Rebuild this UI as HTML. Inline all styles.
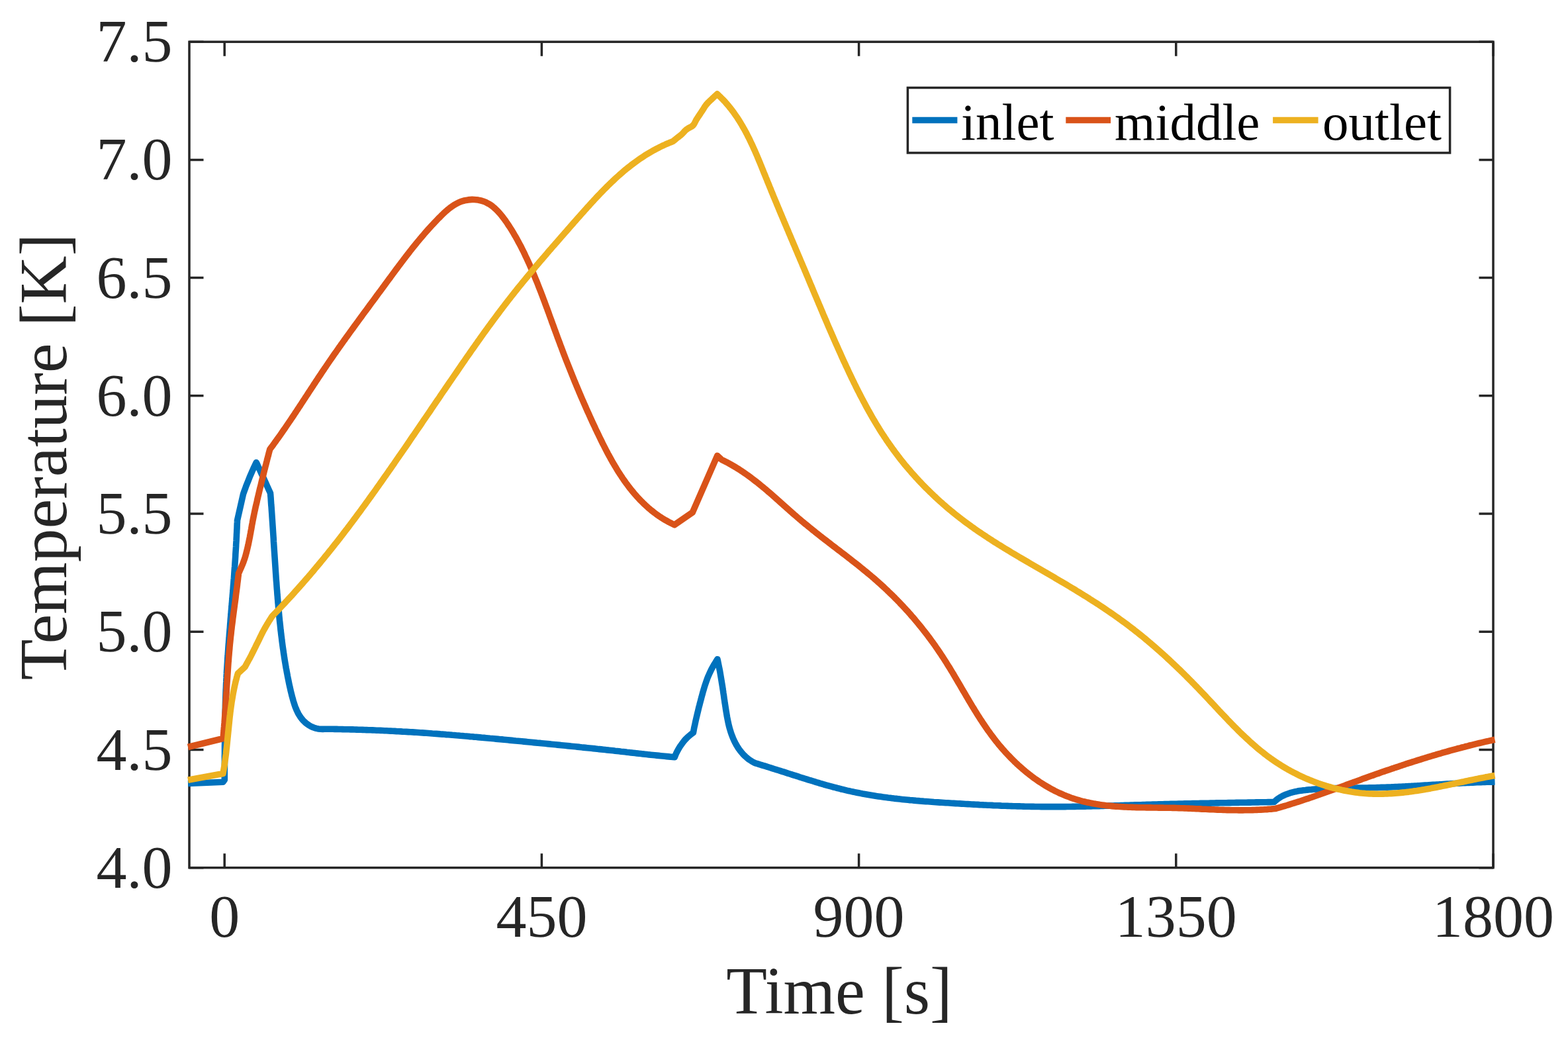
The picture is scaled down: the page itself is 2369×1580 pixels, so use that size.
<!DOCTYPE html>
<html lang="en"><head><meta charset="utf-8"><title>Temperature vs Time</title>
<style>html,body{margin:0;padding:0;background:#fff;overflow:hidden}svg{display:block}text{font-family:"Liberation Serif","DejaVu Serif",serif;fill:#262626}.tk{font-size:92px}.lb{font-size:101px}.lg{font-size:79px;fill:#000}.ax{stroke:#262626;stroke-width:3.5;fill:none}.cv{fill:none;stroke-width:9.6;stroke-linejoin:round;stroke-linecap:butt}</style></head><body>
<svg xmlns="http://www.w3.org/2000/svg" width="2369" height="1580" viewBox="0 0 2369 1580">
<rect width="2369" height="1580" fill="#fff"/>
<rect class="ax" x="286.0" y="63.2" width="1970.0" height="1247.5"/>
<path class="ax" style="stroke-width:3.5" d="M339.2 1310.7 v-21.5 M339.2 63.2 v21.5M818.4 1310.7 v-21.5 M818.4 63.2 v21.5M1297.6 1310.7 v-21.5 M1297.6 63.2 v21.5M1776.8 1310.7 v-21.5 M1776.8 63.2 v21.5M2256.0 1310.7 v-21.5 M2256.0 63.2 v21.5M286.0 1310.7 h21.5 M2256.0 1310.7 h-21.5M286.0 1132.5 h21.5 M2256.0 1132.5 h-21.5M286.0 954.3 h21.5 M2256.0 954.3 h-21.5M286.0 776.1 h21.5 M2256.0 776.1 h-21.5M286.0 597.8 h21.5 M2256.0 597.8 h-21.5M286.0 419.6 h21.5 M2256.0 419.6 h-21.5M286.0 241.4 h21.5 M2256.0 241.4 h-21.5M286.0 63.2 h21.5 M2256.0 63.2 h-21.5"/>
<path class="cv" stroke="#0072BD" d="M284.0 1183.5L337.0 1181.2L339.3 1178.0L339.3 1175.0L339.3 1172.0L339.3 1168.9L339.3 1165.9L339.4 1162.9L339.4 1159.9L339.4 1156.9L339.4 1153.8L339.4 1150.8L339.4 1147.8L339.4 1144.8L339.4 1141.8L339.5 1138.7L339.5 1135.7L339.5 1132.7L339.5 1129.7L339.5 1126.7L339.6 1123.6L339.6 1120.6L339.6 1117.6L339.6 1114.6L339.7 1111.6L339.7 1108.5L339.7 1105.5L339.8 1102.5L339.8 1099.5L339.8 1096.5L339.9 1093.4L339.9 1090.4L340.0 1087.4L340.0 1084.4L340.1 1081.4L340.2 1078.3L340.2 1075.3L340.3 1072.3L340.4 1069.3L340.4 1066.3L340.5 1063.2L340.6 1060.2L340.7 1057.2L340.8 1054.2L340.9 1051.2L341.0 1048.1L341.1 1045.1L341.2 1042.1L341.4 1039.1L341.5 1036.1L341.6 1033.0L341.8 1030.0L341.9 1027.0L342.1 1024.0L342.2 1021.0L342.4 1018.0L342.5 1015.0L342.7 1011.9L342.9 1008.9L343.1 1005.9L343.3 1002.9L343.5 999.9L343.6 996.9L343.8 993.9L344.1 990.8L344.3 987.8L344.5 984.8L344.7 981.8L344.9 978.8L345.1 975.8L345.4 972.8L345.6 969.8L345.8 966.7L346.1 963.7L346.3 960.7L346.5 957.7L346.8 954.7L347.0 951.7L347.3 948.7L347.5 945.7L347.7 942.7L348.0 939.7L348.2 936.6L348.5 933.6L348.7 930.6L349.0 927.6L349.2 924.6L349.5 921.6L349.7 918.6L350.0 915.6L350.2 912.6L350.5 909.6L350.7 906.5L351.0 903.5L351.2 900.5L351.5 897.5L351.7 894.5L352.0 891.5L352.2 888.5L352.4 885.5L352.7 882.5L352.9 879.5L353.1 876.4L353.4 873.4L353.6 870.4L353.8 867.4L354.0 864.4L354.2 861.4L354.4 858.4L354.7 855.4L354.9 852.3L355.1 849.3L355.3 846.3L355.5 843.3L355.7 840.3L355.8 837.3L356.0 834.3L356.2 831.3L356.4 828.2L356.6 825.2L356.7 822.2L356.9 819.2L357.1 816.2L357.2 813.2L357.4 810.1L357.5 807.1L357.7 804.1L357.8 801.1L358.0 798.1L358.1 795.1L358.2 792.0L358.4 789.0L358.5 786.0L367.5 746.3L368.5 743.4L369.5 740.6L370.6 737.7L371.6 734.8L372.7 732.0L373.8 729.2L375.0 726.3L376.1 723.5L377.2 720.7L378.4 717.9L379.6 715.1L380.8 712.3L382.1 709.5L383.3 706.8L384.6 704.0L385.9 701.2L387.2 698.5L388.5 701.2L389.7 704.0L391.0 706.7L392.3 709.4L393.5 712.1L394.8 714.9L396.0 717.6L397.3 720.3L398.6 723.1L399.8 725.8L401.1 728.6L402.3 731.3L403.5 734.0L404.8 736.8L406.0 739.5L407.3 742.3L408.5 745.0L408.7 748.0L409.0 751.0L409.2 754.0L409.4 757.1L409.6 760.1L409.8 763.1L410.1 766.1L410.3 769.1L410.5 772.1L410.7 775.1L410.9 778.1L411.1 781.1L411.3 784.1L411.5 787.1L411.7 790.1L411.9 793.1L412.1 796.1L412.3 799.1L412.5 802.2L412.7 805.2L412.9 808.2L413.1 811.2L413.3 814.2L413.4 817.2L413.6 820.2L413.8 823.2L414.0 826.2L414.2 829.2L414.4 832.2L414.6 835.2L414.8 838.1L415.0 841.1L415.2 844.1L415.4 847.1L415.6 850.1L415.8 853.1L416.0 856.1L416.2 859.1L416.4 862.2L416.6 865.2L416.8 868.2L417.0 871.2L417.2 874.2L417.4 877.2L417.7 880.2L417.9 883.2L418.1 886.2L418.3 889.2L418.6 892.2L418.8 895.2L419.0 898.2L419.3 901.2L419.5 904.2L419.8 907.2L420.0 910.3L420.3 913.3L420.5 916.3L420.8 919.3L421.1 922.3L421.4 925.3L421.6 928.3L421.9 931.3L422.2 934.3L422.5 937.4L422.8 940.4L423.2 943.4L423.5 946.4L423.8 949.4L424.1 952.4L424.5 955.4L424.8 958.4L425.2 961.4L425.6 964.4L425.9 967.4L426.3 970.4L426.7 973.4L427.1 976.4L427.5 979.4L428.0 982.3L428.4 985.3L428.8 988.3L429.3 991.3L429.7 994.3L430.2 997.2L430.7 1000.2L431.2 1003.2L431.7 1006.1L432.2 1009.1L432.8 1012.1L433.3 1015.0L433.9 1018.0L434.4 1020.9L435.0 1023.9L435.6 1026.8L436.2 1029.7L436.8 1032.7L437.4 1035.6L438.1 1038.5L438.7 1041.4L439.4 1044.3L440.1 1047.2L440.8 1050.1L441.6 1053.0L442.4 1055.9L443.2 1058.8L444.1 1061.7L445.0 1064.5L446.0 1067.4L447.1 1070.2L448.3 1073.0L449.6 1075.8L451.0 1078.5L452.6 1081.1L454.2 1083.6L456.1 1086.0L458.1 1088.3L460.2 1090.4L462.4 1092.4L464.8 1094.2L467.4 1095.8L470.0 1097.3L472.7 1098.5L475.5 1099.6L478.4 1100.4L481.4 1101.0L484.4 1101.3L487.5 1101.4L490.6 1101.2L493.6 1101.2L496.6 1101.3L499.6 1101.3L502.7 1101.3L505.7 1101.4L508.7 1101.4L511.7 1101.5L514.7 1101.5L517.7 1101.6L520.7 1101.7L523.8 1101.7L526.8 1101.8L529.8 1101.9L532.8 1101.9L535.8 1102.0L538.8 1102.1L541.8 1102.2L544.9 1102.3L547.9 1102.4L550.9 1102.5L553.9 1102.6L556.9 1102.7L559.9 1102.8L562.9 1102.9L565.9 1103.0L569.0 1103.2L572.0 1103.3L575.0 1103.4L578.0 1103.5L581.0 1103.7L584.0 1103.8L587.0 1104.0L590.0 1104.1L593.1 1104.3L596.1 1104.4L599.1 1104.6L602.1 1104.7L605.1 1104.9L608.1 1105.1L611.1 1105.2L614.1 1105.4L617.1 1105.6L620.1 1105.8L623.2 1105.9L626.2 1106.1L629.2 1106.3L632.2 1106.5L635.2 1106.7L638.2 1106.9L641.2 1107.1L644.2 1107.3L647.2 1107.5L650.2 1107.7L653.2 1108.0L656.2 1108.2L659.2 1108.4L662.3 1108.6L665.3 1108.9L668.3 1109.1L671.3 1109.3L674.3 1109.6L677.3 1109.8L680.3 1110.0L683.3 1110.3L686.3 1110.5L689.3 1110.8L692.3 1111.0L695.3 1111.3L698.3 1111.5L701.3 1111.8L704.3 1112.0L707.3 1112.3L710.3 1112.6L713.3 1112.8L716.3 1113.1L719.3 1113.3L722.3 1113.6L725.4 1113.9L728.4 1114.2L731.4 1114.4L734.4 1114.7L737.4 1115.0L740.4 1115.3L743.4 1115.5L746.4 1115.8L749.4 1116.1L752.4 1116.4L755.4 1116.7L758.4 1116.9L761.4 1117.2L764.4 1117.5L767.4 1117.8L770.4 1118.1L773.4 1118.4L776.4 1118.7L779.4 1119.0L782.4 1119.2L785.4 1119.5L788.4 1119.8L791.4 1120.1L794.4 1120.4L797.4 1120.7L800.4 1121.0L803.4 1121.3L806.4 1121.6L809.4 1121.9L812.4 1122.2L815.4 1122.4L818.4 1122.7L821.4 1123.0L824.4 1123.3L827.4 1123.6L830.4 1123.9L833.4 1124.2L836.4 1124.5L839.4 1124.8L842.4 1125.1L845.4 1125.4L848.4 1125.7L851.4 1126.0L854.4 1126.3L857.4 1126.6L860.4 1126.9L863.4 1127.2L866.4 1127.5L869.4 1127.8L872.4 1128.1L875.4 1128.4L878.4 1128.8L881.4 1129.1L884.4 1129.4L887.4 1129.7L890.4 1130.0L893.4 1130.3L896.4 1130.6L899.4 1130.9L902.4 1131.3L905.4 1131.6L908.4 1131.9L911.4 1132.2L914.4 1132.5L917.4 1132.9L920.4 1133.2L923.4 1133.5L926.4 1133.8L929.4 1134.2L932.3 1134.5L935.3 1134.8L938.3 1135.2L941.3 1135.5L944.3 1135.8L947.3 1136.2L950.3 1136.5L953.3 1136.9L956.3 1137.2L959.3 1137.5L962.3 1137.9L965.3 1138.2L968.3 1138.5L971.3 1138.9L974.3 1139.2L977.3 1139.5L980.3 1139.9L983.3 1140.2L986.3 1140.5L989.3 1140.8L992.3 1141.1L995.3 1141.4L998.3 1141.7L1001.3 1142.0L1004.3 1142.3L1007.3 1142.6L1010.3 1142.9L1013.3 1143.2L1016.3 1143.4L1019.3 1143.7L1020.5 1140.7L1021.8 1137.7L1023.2 1134.8L1024.7 1132.1L1026.3 1129.3L1028.0 1126.7L1029.8 1124.2L1031.6 1121.7L1033.4 1119.3L1035.4 1117.0L1037.6 1114.8L1039.9 1112.6L1042.3 1110.6L1044.8 1108.6L1047.4 1106.7L1048.0 1103.7L1048.5 1100.8L1049.1 1097.8L1049.8 1094.9L1050.4 1091.9L1051.0 1089.0L1051.7 1086.0L1052.4 1083.1L1053.1 1080.2L1053.8 1077.2L1054.5 1074.3L1055.2 1071.4L1055.9 1068.4L1056.7 1065.5L1057.4 1062.6L1058.2 1059.7L1059.0 1056.8L1059.7 1053.9L1060.5 1051.0L1061.3 1048.1L1062.1 1045.1L1063.0 1042.2L1063.8 1039.3L1064.7 1036.4L1065.6 1033.6L1066.6 1030.7L1067.6 1027.9L1068.6 1025.1L1069.7 1022.3L1070.9 1019.6L1072.1 1016.8L1073.4 1014.1L1074.7 1011.4L1076.1 1008.8L1077.6 1006.1L1079.1 1003.5L1080.7 1000.9L1082.3 998.3L1083.9 995.7L1084.6 998.7L1085.2 1001.6L1085.8 1004.6L1086.4 1007.6L1087.0 1010.5L1087.6 1013.5L1088.1 1016.5L1088.6 1019.5L1089.1 1022.5L1089.6 1025.5L1090.1 1028.6L1090.6 1031.6L1091.1 1034.6L1091.6 1037.6L1092.0 1040.6L1092.5 1043.7L1092.9 1046.7L1093.4 1049.7L1093.8 1052.7L1094.2 1055.8L1094.7 1058.8L1095.1 1061.8L1095.6 1064.8L1096.1 1067.9L1096.5 1070.9L1097.0 1073.9L1097.5 1076.9L1098.0 1079.9L1098.5 1082.9L1099.1 1085.9L1099.7 1088.9L1100.3 1091.9L1101.0 1094.8L1101.7 1097.8L1102.5 1100.7L1103.4 1103.6L1104.3 1106.5L1105.3 1109.4L1106.4 1112.3L1107.5 1115.1L1108.8 1117.9L1110.1 1120.7L1111.5 1123.4L1113.0 1126.1L1114.6 1128.7L1116.3 1131.2L1118.1 1133.7L1120.0 1136.1L1122.0 1138.4L1124.1 1140.7L1126.3 1142.8L1128.5 1144.8L1130.9 1146.7L1133.4 1148.4L1136.0 1150.1L1138.7 1151.6L1141.5 1152.9L1144.4 1153.7L1147.3 1154.6L1150.1 1155.5L1153.0 1156.3L1155.9 1157.2L1158.8 1158.1L1161.6 1159.0L1164.5 1159.9L1167.4 1160.8L1170.2 1161.7L1173.1 1162.6L1176.0 1163.5L1178.8 1164.4L1181.7 1165.3L1184.6 1166.2L1187.4 1167.1L1190.3 1168.1L1193.2 1169.0L1196.0 1169.9L1198.9 1170.8L1201.8 1171.7L1204.7 1172.6L1207.5 1173.6L1210.4 1174.5L1213.3 1175.4L1216.1 1176.3L1219.0 1177.2L1221.9 1178.1L1224.8 1178.9L1227.6 1179.8L1230.5 1180.7L1233.4 1181.6L1236.3 1182.4L1239.2 1183.3L1242.1 1184.1L1244.9 1185.0L1247.8 1185.8L1250.7 1186.6L1253.6 1187.4L1256.5 1188.2L1259.4 1189.0L1262.3 1189.7L1265.2 1190.5L1268.1 1191.2L1271.1 1192.0L1274.0 1192.7L1276.9 1193.4L1279.8 1194.1L1282.7 1194.7L1285.7 1195.4L1288.6 1196.0L1291.5 1196.6L1294.5 1197.2L1297.4 1197.8L1300.4 1198.4L1303.3 1199.0L1306.3 1199.5L1309.2 1200.0L1312.2 1200.5L1315.1 1201.0L1318.1 1201.5L1321.1 1202.0L1324.0 1202.5L1327.0 1202.9L1330.0 1203.3L1333.0 1203.8L1335.9 1204.2L1338.9 1204.6L1341.9 1205.0L1344.9 1205.3L1347.9 1205.7L1350.9 1206.1L1353.9 1206.4L1356.9 1206.7L1359.9 1207.1L1362.8 1207.4L1365.8 1207.7L1368.8 1208.0L1371.8 1208.3L1374.8 1208.6L1377.8 1208.8L1380.9 1209.1L1383.9 1209.4L1386.9 1209.6L1389.9 1209.9L1392.9 1210.1L1395.9 1210.4L1398.9 1210.6L1401.9 1210.8L1404.9 1211.0L1407.9 1211.2L1410.9 1211.5L1413.9 1211.7L1416.9 1211.9L1420.0 1212.1L1423.0 1212.3L1426.0 1212.5L1429.0 1212.7L1432.0 1212.8L1435.0 1213.0L1438.0 1213.2L1441.0 1213.4L1444.0 1213.6L1447.0 1213.8L1450.0 1213.9L1453.0 1214.1L1456.0 1214.3L1459.1 1214.5L1462.1 1214.6L1465.1 1214.8L1468.1 1215.0L1471.1 1215.1L1474.1 1215.3L1477.1 1215.4L1480.1 1215.6L1483.1 1215.7L1486.1 1215.9L1489.1 1216.0L1492.1 1216.2L1495.1 1216.3L1498.1 1216.4L1501.1 1216.6L1504.1 1216.7L1507.1 1216.8L1510.1 1216.9L1513.1 1217.1L1516.1 1217.2L1519.1 1217.3L1522.1 1217.4L1525.1 1217.5L1528.1 1217.6L1531.1 1217.7L1534.1 1217.8L1537.1 1217.9L1540.1 1217.9L1543.1 1218.0L1546.1 1218.1L1549.1 1218.2L1552.1 1218.2L1555.1 1218.3L1558.1 1218.4L1561.1 1218.4L1564.1 1218.5L1567.1 1218.5L1570.1 1218.5L1573.1 1218.6L1576.1 1218.6L1579.1 1218.6L1582.1 1218.6L1585.1 1218.6L1588.2 1218.6L1591.2 1218.6L1594.2 1218.6L1597.2 1218.6L1600.2 1218.6L1603.2 1218.6L1606.2 1218.6L1609.2 1218.6L1612.2 1218.5L1615.2 1218.5L1618.2 1218.5L1621.2 1218.4L1624.2 1218.4L1627.2 1218.3L1630.3 1218.3L1633.3 1218.2L1636.3 1218.1L1639.3 1218.1L1642.3 1218.0L1645.3 1217.9L1648.3 1217.9L1651.3 1217.8L1654.3 1217.7L1657.3 1217.7L1660.4 1217.6L1663.4 1217.5L1666.4 1217.4L1669.4 1217.3L1672.4 1217.2L1675.4 1217.1L1678.4 1217.1L1681.4 1217.0L1684.4 1216.9L1687.4 1216.8L1690.5 1216.7L1693.5 1216.6L1696.5 1216.5L1699.5 1216.4L1702.5 1216.3L1705.5 1216.2L1708.5 1216.1L1711.5 1216.0L1714.5 1215.9L1717.5 1215.8L1720.6 1215.8L1723.6 1215.7L1726.6 1215.6L1729.6 1215.5L1732.6 1215.4L1735.6 1215.3L1738.6 1215.2L1741.6 1215.1L1744.6 1215.0L1747.6 1215.0L1750.6 1214.9L1753.6 1214.8L1756.6 1214.7L1759.6 1214.6L1762.7 1214.6L1765.7 1214.5L1768.7 1214.4L1771.7 1214.3L1774.7 1214.3L1777.7 1214.2L1780.7 1214.1L1783.7 1214.0L1786.7 1214.0L1789.7 1213.9L1792.7 1213.8L1795.7 1213.8L1798.7 1213.7L1801.7 1213.6L1804.7 1213.6L1807.7 1213.5L1810.7 1213.5L1813.7 1213.4L1816.7 1213.3L1819.7 1213.3L1822.7 1213.2L1825.7 1213.2L1828.8 1213.1L1831.8 1213.0L1834.8 1213.0L1837.8 1212.9L1840.8 1212.9L1843.8 1212.8L1846.8 1212.8L1849.8 1212.7L1852.8 1212.7L1855.8 1212.6L1858.8 1212.6L1861.8 1212.5L1864.8 1212.5L1867.8 1212.4L1870.8 1212.4L1873.8 1212.3L1876.8 1212.3L1879.9 1212.2L1882.9 1212.2L1885.9 1212.1L1888.9 1212.1L1891.9 1212.0L1894.9 1212.0L1897.9 1211.9L1900.9 1211.9L1903.9 1211.8L1906.9 1211.8L1909.9 1211.7L1913.0 1211.7L1916.0 1211.6L1919.0 1211.6L1922.0 1211.5L1925.0 1211.5L1927.4 1209.3L1929.8 1207.3L1932.4 1205.5L1934.9 1203.9L1937.6 1202.4L1940.3 1201.1L1943.0 1199.9L1945.8 1198.9L1948.6 1197.9L1951.5 1197.1L1954.4 1196.4L1957.3 1195.7L1960.3 1195.1L1963.2 1194.6L1966.2 1194.2L1969.2 1193.8L1972.2 1193.5L1975.2 1193.1L1978.2 1192.8L1981.2 1192.6L1984.3 1192.3L1987.3 1192.1L1990.3 1191.9L1993.3 1191.7L1996.3 1191.5L1999.3 1191.3L2002.3 1191.2L2005.3 1191.0L2008.4 1190.9L2011.4 1190.8L2014.4 1190.7L2017.4 1190.6L2020.4 1190.6L2023.4 1190.5L2026.5 1190.4L2029.5 1190.4L2032.5 1190.3L2035.5 1190.3L2038.5 1190.3L2041.5 1190.2L2044.6 1190.2L2047.6 1190.2L2050.6 1190.1L2053.6 1190.1L2056.6 1190.1L2059.6 1190.0L2062.7 1190.0L2065.7 1190.0L2068.7 1189.9L2071.7 1189.8L2074.7 1189.8L2077.7 1189.7L2080.8 1189.6L2083.8 1189.5L2086.8 1189.4L2089.8 1189.3L2092.8 1189.2L2095.8 1189.1L2098.8 1189.0L2101.9 1188.9L2104.9 1188.7L2107.9 1188.6L2110.9 1188.5L2113.9 1188.3L2116.9 1188.2L2119.9 1188.0L2123.0 1187.9L2126.0 1187.7L2129.0 1187.5L2132.0 1187.4L2135.0 1187.2L2138.0 1187.0L2141.0 1186.9L2144.0 1186.7L2147.0 1186.5L2150.1 1186.3L2153.1 1186.1L2156.1 1186.0L2159.1 1185.8L2162.1 1185.6L2165.1 1185.4L2168.1 1185.2L2171.1 1185.0L2174.1 1184.9L2177.2 1184.7L2180.2 1184.5L2183.2 1184.3L2186.2 1184.1L2189.2 1184.0L2192.2 1183.8L2195.2 1183.6L2198.2 1183.5L2201.2 1183.3L2204.3 1183.1L2207.3 1183.0L2210.3 1182.8L2213.3 1182.7L2216.3 1182.5L2219.3 1182.4L2222.3 1182.2L2225.3 1182.1L2228.4 1182.0L2231.4 1181.8L2234.4 1181.7L2237.4 1181.6L2240.4 1181.5L2243.4 1181.4L2246.4 1181.3L2249.5 1181.2L2252.5 1181.1L2255.5 1181.1L2258.5 1181.0"/>
<path class="cv" stroke="#D95319" d="M284.0 1128.5L337.0 1115.5L337.3 1112.5L337.6 1109.5L337.8 1106.5L338.1 1103.5L338.3 1100.5L338.6 1097.4L338.8 1094.4L339.1 1091.4L339.3 1088.4L339.5 1085.4L339.7 1082.4L339.9 1079.4L340.1 1076.4L340.4 1073.3L340.6 1070.3L340.8 1067.3L340.9 1064.3L341.1 1061.3L341.3 1058.3L341.5 1055.3L341.7 1052.2L341.9 1049.2L342.1 1046.2L342.3 1043.2L342.4 1040.2L342.6 1037.2L342.8 1034.2L343.0 1031.1L343.2 1028.1L343.4 1025.1L343.6 1022.1L343.8 1019.1L344.0 1016.1L344.2 1013.1L344.4 1010.1L344.6 1007.0L344.8 1004.0L345.0 1001.0L345.3 998.0L345.5 995.0L345.7 992.0L346.0 989.0L346.2 986.0L346.5 983.0L346.8 980.0L347.0 977.0L347.3 973.9L347.6 970.9L347.9 967.9L348.2 964.9L348.5 961.9L348.9 958.9L349.2 955.9L349.5 952.9L349.9 949.9L350.2 946.9L350.6 943.9L351.0 940.9L351.4 937.9L351.7 934.9L352.1 931.9L352.5 928.9L352.9 925.9L353.3 922.9L353.7 919.9L354.1 916.9L354.5 913.9L354.9 910.9L355.3 908.0L355.7 905.0L356.1 902.0L356.4 899.0L356.8 896.0L357.2 893.0L357.6 890.0L358.0 887.0L358.4 884.0L358.7 881.0L359.1 878.0L359.5 875.0L359.8 872.0L360.2 869.0L360.5 866.0L361.8 863.2L363.0 860.4L364.2 857.7L365.4 854.9L366.6 852.1L367.7 849.2L368.7 846.4L369.7 843.6L370.6 840.7L371.4 837.8L372.2 834.9L372.9 832.0L373.6 829.1L374.3 826.2L375.0 823.2L375.6 820.3L376.2 817.3L376.8 814.3L377.4 811.4L377.9 808.4L378.5 805.4L379.0 802.4L379.6 799.4L380.1 796.4L380.6 793.4L381.2 790.4L381.7 787.5L382.3 784.5L382.9 781.5L383.5 778.5L384.1 775.6L384.7 772.6L385.4 769.6L386.0 766.7L386.7 763.7L387.4 760.8L388.1 757.8L388.7 754.9L389.4 752.0L390.1 749.0L390.8 746.1L391.5 743.1L392.2 740.2L392.9 737.2L393.7 734.3L394.4 731.4L395.1 728.4L395.8 725.5L396.5 722.5L397.3 719.6L398.0 716.7L398.7 713.7L399.4 710.8L400.2 707.9L400.9 704.9L401.7 702.0L402.4 699.1L403.2 696.2L403.9 693.2L404.7 690.3L405.5 687.4L406.2 684.4L407.0 681.5L407.8 678.6L409.6 676.2L411.4 673.8L413.2 671.4L414.9 668.9L416.7 666.5L418.4 664.1L420.2 661.6L421.9 659.2L423.7 656.7L425.4 654.3L427.1 651.8L428.8 649.3L430.5 646.9L432.2 644.4L433.9 641.9L435.6 639.4L437.3 636.9L439.0 634.5L440.6 632.0L442.3 629.5L444.0 627.0L445.6 624.5L447.3 622.0L448.9 619.5L450.6 617.0L452.2 614.5L453.9 612.0L455.5 609.5L457.2 606.9L458.8 604.4L460.5 601.9L462.1 599.4L463.8 596.9L465.4 594.4L467.0 591.9L468.7 589.4L470.3 586.9L472.0 584.3L473.6 581.8L475.3 579.3L476.9 576.8L478.6 574.3L480.2 571.8L481.9 569.3L483.6 566.8L485.2 564.3L486.9 561.8L488.6 559.3L490.2 556.8L491.9 554.4L493.6 551.9L495.3 549.4L497.0 546.9L498.7 544.4L500.4 542.0L502.1 539.5L503.8 537.0L505.5 534.6L507.3 532.1L509.0 529.6L510.7 527.2L512.4 524.7L514.2 522.3L515.9 519.8L517.7 517.4L519.4 514.9L521.2 512.5L522.9 510.1L524.7 507.6L526.4 505.2L528.2 502.7L529.9 500.3L531.7 497.9L533.5 495.5L535.2 493.0L537.0 490.6L538.8 488.2L540.6 485.7L542.3 483.3L544.1 480.9L545.9 478.5L547.7 476.0L549.4 473.6L551.2 471.2L553.0 468.8L554.8 466.4L556.6 464.0L558.3 461.5L560.1 459.1L561.9 456.7L563.7 454.3L565.5 451.9L567.3 449.5L569.0 447.0L570.8 444.6L572.6 442.2L574.4 439.8L576.2 437.4L577.9 435.0L579.7 432.6L581.5 430.1L583.3 427.7L585.0 425.3L586.8 422.9L588.6 420.5L590.4 418.1L592.1 415.7L593.9 413.2L595.7 410.8L597.5 408.4L599.3 406.0L601.1 403.6L602.9 401.2L604.7 398.8L606.5 396.4L608.3 394.1L610.1 391.7L611.9 389.3L613.7 386.9L615.6 384.5L617.4 382.2L619.2 379.8L621.1 377.5L623.0 375.1L624.8 372.8L626.7 370.4L628.6 368.1L630.5 365.8L632.4 363.5L634.3 361.2L636.3 358.9L638.2 356.6L640.2 354.3L642.1 352.0L644.1 349.8L646.1 347.5L648.1 345.3L650.2 343.0L652.2 340.8L654.3 338.6L656.3 336.4L658.4 334.2L660.5 332.0L662.6 329.8L664.8 327.7L666.9 325.5L669.1 323.4L671.3 321.3L673.5 319.3L675.8 317.3L678.1 315.4L680.5 313.5L682.9 311.8L685.3 310.2L687.9 308.6L690.4 307.2L693.1 305.9L695.8 304.8L698.5 303.8L701.4 303.0L704.3 302.4L707.3 301.9L710.3 301.6L713.4 301.4L716.4 301.5L719.4 301.7L722.5 302.1L725.4 302.7L728.4 303.5L731.2 304.4L734.0 305.5L736.6 306.9L739.2 308.3L741.7 309.9L744.1 311.7L746.4 313.6L748.6 315.6L750.8 317.7L752.9 319.9L755.0 322.2L756.9 324.5L758.9 327.0L760.7 329.4L762.6 331.9L764.4 334.4L766.1 336.9L767.8 339.5L769.5 342.0L771.1 344.5L772.7 347.1L774.3 349.6L775.8 352.2L777.3 354.8L778.8 357.3L780.3 359.9L781.7 362.5L783.1 365.1L784.5 367.7L785.9 370.3L787.3 372.9L788.6 375.6L789.9 378.2L791.3 380.9L792.6 383.6L793.8 386.3L795.1 389.0L796.4 391.7L797.6 394.4L798.9 397.1L800.1 399.8L801.3 402.6L802.5 405.3L803.7 408.1L804.9 410.8L806.1 413.6L807.2 416.4L808.4 419.2L809.5 422.0L810.7 424.7L811.8 427.5L812.9 430.4L814.0 433.2L815.1 436.0L816.2 438.8L817.3 441.6L818.4 444.4L819.5 447.3L820.5 450.1L821.6 452.9L822.7 455.8L823.7 458.6L824.8 461.5L825.8 464.3L826.9 467.1L827.9 470.0L829.0 472.8L830.0 475.7L831.0 478.5L832.1 481.4L833.1 484.2L834.1 487.1L835.2 489.9L836.2 492.7L837.2 495.6L838.3 498.4L839.3 501.2L840.4 504.1L841.4 506.9L842.4 509.7L843.5 512.5L844.5 515.3L845.6 518.1L846.6 520.9L847.7 523.7L848.7 526.5L849.8 529.3L850.8 532.1L851.9 534.9L853.0 537.7L854.0 540.4L855.1 543.2L856.2 546.0L857.3 548.7L858.4 551.5L859.5 554.3L860.6 557.0L861.7 559.8L862.8 562.5L863.9 565.3L865.0 568.0L866.1 570.8L867.2 573.5L868.3 576.3L869.5 579.0L870.6 581.7L871.8 584.5L872.9 587.2L874.1 589.9L875.2 592.7L876.4 595.4L877.5 598.1L878.7 600.9L879.9 603.6L881.1 606.3L882.3 609.1L883.5 611.8L884.7 614.5L885.9 617.3L887.1 620.0L888.3 622.7L889.6 625.4L890.8 628.2L892.0 630.9L893.3 633.6L894.5 636.4L895.8 639.1L897.1 641.8L898.4 644.6L899.6 647.3L900.9 650.0L902.2 652.8L903.6 655.5L904.9 658.3L906.2 661.0L907.5 663.7L908.9 666.5L910.2 669.2L911.6 671.9L913.0 674.6L914.4 677.4L915.8 680.1L917.2 682.8L918.6 685.5L920.1 688.2L921.6 690.8L923.0 693.5L924.5 696.1L926.0 698.8L927.6 701.4L929.1 704.0L930.7 706.6L932.2 709.2L933.8 711.8L935.5 714.4L937.1 716.9L938.8 719.4L940.4 721.9L942.1 724.4L943.9 726.9L945.6 729.3L947.4 731.7L949.2 734.1L951.0 736.5L952.8 738.8L954.7 741.1L956.6 743.4L958.5 745.7L960.4 747.9L962.4 750.2L964.4 752.3L966.4 754.5L968.5 756.6L970.6 758.7L972.7 760.8L974.8 762.8L977.0 764.8L979.2 766.8L981.4 768.7L983.7 770.6L986.0 772.4L988.3 774.2L990.7 776.0L993.1 777.8L995.5 779.4L998.0 781.1L1000.5 782.7L1003.1 784.3L1005.6 785.8L1008.3 787.3L1010.9 788.8L1013.6 790.1L1016.3 791.5L1019.1 792.8L1046.3 774.0L1083.7 688.3L1090.5 694.5L1093.3 695.8L1096.0 697.2L1098.7 698.6L1101.3 700.0L1104.0 701.5L1106.6 703.0L1109.2 704.5L1111.8 706.0L1114.3 707.6L1116.9 709.2L1119.4 710.9L1121.9 712.5L1124.4 714.2L1126.8 715.9L1129.3 717.6L1131.7 719.4L1134.1 721.2L1136.5 723.0L1138.9 724.8L1141.2 726.6L1143.6 728.4L1145.9 730.3L1148.3 732.2L1150.6 734.1L1152.9 736.0L1155.2 737.9L1157.5 739.8L1159.7 741.8L1162.0 743.7L1164.3 745.7L1166.6 747.7L1168.8 749.6L1171.1 751.6L1173.3 753.6L1175.6 755.6L1177.8 757.6L1180.0 759.6L1182.3 761.6L1184.5 763.6L1186.8 765.6L1189.0 767.6L1191.3 769.6L1193.5 771.6L1195.8 773.6L1198.0 775.6L1200.3 777.6L1202.6 779.5L1204.8 781.5L1207.1 783.5L1209.4 785.4L1211.7 787.4L1214.0 789.3L1216.3 791.2L1218.7 793.1L1221.0 795.0L1223.3 796.9L1225.7 798.8L1228.0 800.7L1230.4 802.6L1232.7 804.5L1235.1 806.3L1237.5 808.2L1239.8 810.1L1242.2 811.9L1244.6 813.8L1247.0 815.6L1249.4 817.4L1251.8 819.3L1254.2 821.1L1256.5 823.0L1258.9 824.8L1261.3 826.6L1263.7 828.5L1266.1 830.3L1268.5 832.1L1270.9 834.0L1273.3 835.8L1275.7 837.6L1278.1 839.5L1280.4 841.3L1282.8 843.2L1285.2 845.0L1287.6 846.9L1289.9 848.7L1292.3 850.6L1294.7 852.4L1297.0 854.3L1299.4 856.2L1301.7 858.1L1304.0 860.0L1306.4 861.9L1308.7 863.8L1311.0 865.7L1313.3 867.6L1315.6 869.5L1317.9 871.5L1320.2 873.4L1322.4 875.4L1324.7 877.4L1326.9 879.4L1329.2 881.4L1331.4 883.4L1333.6 885.4L1335.8 887.4L1338.0 889.5L1340.2 891.5L1342.3 893.6L1344.5 895.7L1346.6 897.7L1348.8 899.8L1350.9 901.9L1353.0 904.1L1355.1 906.2L1357.2 908.3L1359.3 910.5L1361.3 912.7L1363.4 914.8L1365.4 917.0L1367.5 919.2L1369.5 921.4L1371.5 923.6L1373.5 925.9L1375.5 928.1L1377.4 930.4L1379.4 932.6L1381.4 934.9L1383.3 937.2L1385.2 939.5L1387.1 941.8L1389.0 944.1L1390.9 946.4L1392.8 948.8L1394.6 951.1L1396.5 953.5L1398.3 955.8L1400.2 958.2L1402.0 960.6L1403.8 963.0L1405.6 965.4L1407.3 967.8L1409.1 970.2L1410.9 972.7L1412.6 975.1L1414.3 977.6L1416.0 980.0L1417.7 982.5L1419.4 985.0L1421.1 987.5L1422.7 990.0L1424.4 992.5L1426.0 995.0L1427.6 997.5L1429.3 1000.1L1430.8 1002.6L1432.4 1005.2L1434.0 1007.7L1435.6 1010.3L1437.2 1012.9L1438.7 1015.4L1440.3 1018.0L1441.8 1020.6L1443.3 1023.2L1444.9 1025.8L1446.4 1028.4L1447.9 1031.0L1449.5 1033.6L1451.0 1036.2L1452.5 1038.8L1454.0 1041.4L1455.5 1044.0L1457.1 1046.6L1458.6 1049.2L1460.1 1051.8L1461.7 1054.4L1463.2 1057.0L1464.7 1059.6L1466.3 1062.2L1467.8 1064.8L1469.4 1067.4L1471.0 1069.9L1472.5 1072.5L1474.1 1075.1L1475.7 1077.6L1477.3 1080.2L1478.9 1082.7L1480.6 1085.3L1482.2 1087.8L1483.9 1090.3L1485.5 1092.8L1487.2 1095.3L1488.9 1097.8L1490.6 1100.3L1492.3 1102.8L1494.1 1105.2L1495.9 1107.6L1497.6 1110.1L1499.5 1112.5L1501.3 1114.9L1503.1 1117.3L1505.0 1119.7L1506.9 1122.0L1508.8 1124.4L1510.7 1126.7L1512.7 1129.0L1514.7 1131.3L1516.7 1133.5L1518.7 1135.8L1520.7 1138.0L1522.8 1140.2L1524.9 1142.4L1527.0 1144.6L1529.1 1146.8L1531.3 1148.9L1533.4 1151.0L1535.6 1153.1L1537.8 1155.1L1540.0 1157.2L1542.3 1159.2L1544.6 1161.2L1546.9 1163.1L1549.2 1165.1L1551.5 1167.0L1553.8 1168.8L1556.2 1170.7L1558.6 1172.5L1561.0 1174.3L1563.4 1176.1L1565.9 1177.8L1568.3 1179.5L1570.8 1181.2L1573.3 1182.8L1575.8 1184.4L1578.3 1186.0L1580.9 1187.5L1583.5 1189.0L1586.1 1190.5L1588.7 1191.9L1591.3 1193.3L1593.9 1194.7L1596.6 1196.0L1599.3 1197.3L1602.0 1198.5L1604.7 1199.7L1607.4 1200.9L1610.1 1202.0L1612.9 1203.1L1615.7 1204.1L1618.5 1205.2L1621.3 1206.1L1624.1 1207.0L1626.9 1207.9L1629.8 1208.7L1632.6 1209.5L1635.5 1210.3L1638.4 1211.0L1641.3 1211.7L1644.3 1212.3L1647.2 1212.9L1650.1 1213.5L1653.1 1214.1L1656.1 1214.6L1659.0 1215.0L1662.0 1215.5L1665.0 1215.9L1668.0 1216.3L1671.1 1216.7L1674.1 1217.0L1677.1 1217.3L1680.1 1217.6L1683.2 1217.9L1686.2 1218.1L1689.3 1218.3L1692.3 1218.5L1695.4 1218.7L1698.5 1218.9L1701.5 1219.0L1704.6 1219.2L1707.7 1219.3L1710.8 1219.4L1713.8 1219.5L1716.9 1219.6L1720.0 1219.7L1723.1 1219.7L1726.1 1219.8L1729.2 1219.8L1732.3 1219.9L1735.4 1219.9L1738.4 1219.9L1741.5 1220.0L1744.5 1220.0L1747.6 1220.0L1750.7 1220.1L1753.7 1220.1L1756.7 1220.1L1759.8 1220.2L1762.8 1220.2L1765.8 1220.3L1768.8 1220.3L1771.8 1220.4L1774.8 1220.4L1777.8 1220.5L1780.8 1220.6L1783.7 1220.7L1786.7 1220.8L1789.7 1220.9L1792.6 1221.0L1795.5 1221.1L1798.5 1221.3L1801.4 1221.4L1804.3 1221.5L1807.3 1221.7L1810.2 1221.8L1813.1 1221.9L1816.0 1222.1L1818.9 1222.2L1821.8 1222.3L1824.7 1222.5L1827.7 1222.6L1830.6 1222.7L1833.5 1222.8L1836.4 1223.0L1839.3 1223.1L1842.2 1223.2L1845.1 1223.3L1848.1 1223.4L1851.0 1223.5L1853.9 1223.6L1856.9 1223.6L1859.8 1223.7L1862.7 1223.8L1865.7 1223.8L1868.7 1223.8L1871.6 1223.9L1874.6 1223.9L1877.6 1223.9L1880.6 1223.8L1883.6 1223.8L1886.6 1223.8L1889.6 1223.7L1892.7 1223.6L1895.7 1223.5L1898.8 1223.4L1901.8 1223.3L1904.9 1223.1L1908.0 1223.0L1911.1 1222.8L1914.2 1222.6L1917.4 1222.3L1920.5 1222.1L1923.7 1221.8L1926.9 1221.5L1929.8 1220.7L1932.7 1219.9L1935.5 1219.0L1938.4 1218.2L1941.3 1217.3L1944.1 1216.5L1947.0 1215.6L1949.9 1214.7L1952.7 1213.8L1955.6 1212.9L1958.4 1212.0L1961.3 1211.1L1964.1 1210.2L1967.0 1209.2L1969.8 1208.3L1972.7 1207.3L1975.5 1206.4L1978.3 1205.4L1981.2 1204.5L1984.0 1203.5L1986.8 1202.5L1989.7 1201.5L1992.5 1200.5L1995.3 1199.5L1998.2 1198.5L2001.0 1197.5L2003.8 1196.5L2006.6 1195.5L2009.5 1194.5L2012.3 1193.5L2015.1 1192.5L2017.9 1191.5L2020.7 1190.5L2023.6 1189.4L2026.4 1188.4L2029.2 1187.4L2032.0 1186.4L2034.8 1185.3L2037.7 1184.3L2040.5 1183.3L2043.3 1182.3L2046.1 1181.2L2049.0 1180.2L2051.8 1179.2L2054.6 1178.2L2057.4 1177.1L2060.2 1176.1L2063.1 1175.1L2065.9 1174.1L2068.7 1173.1L2071.5 1172.1L2074.4 1171.1L2077.2 1170.1L2080.0 1169.1L2082.9 1168.1L2085.7 1167.1L2088.5 1166.1L2091.4 1165.1L2094.2 1164.1L2097.1 1163.2L2099.9 1162.2L2102.7 1161.2L2105.6 1160.3L2108.4 1159.3L2111.3 1158.4L2114.1 1157.4L2117.0 1156.5L2119.8 1155.5L2122.7 1154.6L2125.5 1153.6L2128.4 1152.7L2131.3 1151.8L2134.1 1150.9L2137.0 1150.0L2139.8 1149.1L2142.7 1148.2L2145.6 1147.3L2148.4 1146.4L2151.3 1145.5L2154.2 1144.6L2157.0 1143.7L2159.9 1142.9L2162.8 1142.0L2165.6 1141.1L2168.5 1140.3L2171.4 1139.4L2174.3 1138.6L2177.2 1137.8L2180.0 1136.9L2182.9 1136.1L2185.8 1135.3L2188.7 1134.5L2191.6 1133.7L2194.5 1132.9L2197.4 1132.1L2200.3 1131.3L2203.2 1130.5L2206.1 1129.8L2209.0 1129.0L2211.9 1128.3L2214.8 1127.5L2217.7 1126.8L2220.6 1126.0L2223.5 1125.3L2226.4 1124.6L2229.3 1123.9L2232.2 1123.2L2235.1 1122.5L2238.0 1121.8L2241.0 1121.1L2243.9 1120.4L2246.8 1119.8L2249.7 1119.1L2252.6 1118.5L2255.6 1117.8L2258.5 1117.2"/>
<path class="cv" stroke="#EDB120" d="M284.0 1178.2L337.0 1168.5L337.5 1165.5L338.0 1162.6L338.5 1159.6L339.0 1156.7L339.4 1153.7L339.8 1150.7L340.2 1147.8L340.6 1144.8L341.0 1141.8L341.4 1138.8L341.7 1135.9L342.0 1132.9L342.4 1129.9L342.7 1126.9L343.0 1123.9L343.3 1120.9L343.6 1117.9L343.9 1115.0L344.2 1112.0L344.5 1109.0L344.8 1106.0L345.1 1103.0L345.4 1100.0L345.7 1097.0L346.0 1094.0L346.3 1091.1L346.6 1088.1L346.9 1085.1L347.2 1082.1L347.6 1079.1L347.9 1076.1L348.3 1073.2L348.7 1070.2L349.1 1067.2L349.5 1064.3L349.9 1061.3L350.4 1058.3L350.9 1055.4L351.4 1052.4L351.9 1049.5L352.4 1046.5L353.0 1043.6L353.6 1040.6L354.2 1037.7L354.8 1034.8L355.5 1031.8L356.2 1028.9L357.0 1026.0L357.7 1023.1L358.6 1020.2L359.4 1017.3L370.0 1007.5L371.5 1004.9L372.9 1002.2L374.4 999.6L375.8 996.9L377.3 994.3L378.7 991.6L380.1 988.9L381.4 986.2L382.8 983.5L384.1 980.8L385.5 978.1L386.8 975.4L388.1 972.7L389.5 970.0L390.8 967.3L392.1 964.6L393.4 961.9L394.8 959.1L396.1 956.4L397.5 953.8L398.9 951.1L400.4 948.5L401.9 945.9L403.4 943.3L405.0 940.7L406.6 938.1L408.2 935.6L409.8 933.0L411.5 930.5L413.6 928.3L415.7 926.2L417.8 924.0L419.9 921.9L421.9 919.7L424.0 917.5L426.1 915.3L428.1 913.1L430.2 910.9L432.2 908.7L434.3 906.5L436.3 904.3L438.4 902.1L440.4 899.9L442.4 897.7L444.4 895.5L446.4 893.2L448.4 891.0L450.4 888.8L452.4 886.5L454.4 884.3L456.4 882.0L458.4 879.8L460.3 877.5L462.3 875.3L464.3 873.0L466.2 870.7L468.2 868.5L470.1 866.2L472.1 863.9L474.0 861.6L475.9 859.3L477.8 857.0L479.8 854.7L481.7 852.4L483.6 850.1L485.5 847.8L487.4 845.5L489.3 843.2L491.2 840.8L493.1 838.5L495.0 836.2L496.9 833.8L498.7 831.5L500.6 829.2L502.5 826.8L504.3 824.5L506.2 822.1L508.1 819.8L509.9 817.4L511.8 815.0L513.6 812.7L515.4 810.3L517.3 807.9L519.1 805.5L520.9 803.1L522.7 800.8L524.6 798.4L526.4 796.0L528.2 793.6L530.0 791.2L531.8 788.8L533.6 786.4L535.4 784.0L537.2 781.6L539.0 779.1L540.8 776.7L542.6 774.3L544.4 771.9L546.1 769.5L547.9 767.0L549.7 764.6L551.5 762.2L553.2 759.7L555.0 757.3L556.7 754.9L558.5 752.4L560.3 750.0L562.0 747.5L563.8 745.1L565.5 742.7L567.3 740.2L569.0 737.8L570.7 735.3L572.5 732.9L574.2 730.4L576.0 727.9L577.7 725.5L579.4 723.0L581.1 720.6L582.9 718.1L584.6 715.6L586.3 713.2L588.0 710.7L589.8 708.3L591.5 705.8L593.2 703.3L594.9 700.9L596.6 698.4L598.3 695.9L600.0 693.4L601.7 691.0L603.4 688.5L605.2 686.0L606.9 683.6L608.6 681.1L610.3 678.6L612.0 676.2L613.7 673.7L615.4 671.2L617.1 668.7L618.7 666.3L620.4 663.8L622.1 661.3L623.8 658.8L625.5 656.4L627.2 653.9L628.9 651.4L630.6 648.9L632.3 646.5L634.0 644.0L635.7 641.5L637.4 639.0L639.0 636.5L640.7 634.1L642.4 631.6L644.1 629.1L645.8 626.6L647.5 624.2L649.2 621.7L650.9 619.2L652.5 616.7L654.2 614.2L655.9 611.8L657.6 609.3L659.3 606.8L661.0 604.3L662.7 601.9L664.4 599.4L666.0 596.9L667.7 594.4L669.4 591.9L671.1 589.5L672.8 587.0L674.5 584.5L676.2 582.0L677.9 579.5L679.6 577.1L681.3 574.6L683.0 572.1L684.7 569.6L686.4 567.1L688.1 564.7L689.8 562.2L691.5 559.7L693.2 557.2L694.9 554.8L696.6 552.3L698.3 549.8L700.0 547.3L701.7 544.9L703.4 542.4L705.1 539.9L706.8 537.5L708.6 535.0L710.3 532.5L712.0 530.1L713.7 527.6L715.5 525.1L717.2 522.7L718.9 520.2L720.7 517.8L722.4 515.3L724.1 512.9L725.9 510.4L727.6 508.0L729.4 505.5L731.1 503.1L732.9 500.6L734.7 498.2L736.4 495.8L738.2 493.3L740.0 490.9L741.7 488.5L743.5 486.1L745.3 483.7L747.1 481.2L748.9 478.8L750.7 476.4L752.5 474.0L754.3 471.6L756.1 469.2L757.9 466.8L759.7 464.4L761.5 462.1L763.3 459.7L765.2 457.3L767.0 454.9L768.8 452.6L770.7 450.2L772.5 447.9L774.4 445.5L776.2 443.2L778.1 440.8L780.0 438.5L781.8 436.1L783.7 433.8L785.6 431.5L787.5 429.2L789.4 426.8L791.3 424.5L793.2 422.2L795.1 419.9L797.0 417.6L798.9 415.3L800.8 413.0L802.7 410.7L804.6 408.4L806.6 406.1L808.5 403.8L810.4 401.5L812.4 399.2L814.3 396.9L816.2 394.7L818.2 392.4L820.1 390.1L822.1 387.8L824.0 385.6L826.0 383.3L827.9 381.0L829.9 378.7L831.9 376.5L833.8 374.2L835.8 371.9L837.8 369.7L839.7 367.4L841.7 365.2L843.7 362.9L845.7 360.6L847.6 358.4L849.6 356.1L851.6 353.8L853.6 351.6L855.6 349.3L857.6 347.0L859.6 344.8L861.5 342.5L863.5 340.3L865.5 338.0L867.5 335.7L869.5 333.5L871.5 331.2L873.5 328.9L875.5 326.7L877.5 324.4L879.5 322.1L881.5 319.9L883.5 317.6L885.5 315.4L887.6 313.1L889.6 310.9L891.6 308.6L893.6 306.4L895.7 304.2L897.7 302.0L899.8 299.8L901.8 297.6L903.9 295.4L906.0 293.2L908.1 291.0L910.2 288.9L912.3 286.7L914.4 284.6L916.5 282.5L918.6 280.4L920.8 278.3L922.9 276.2L925.1 274.1L927.3 272.1L929.4 270.0L931.6 268.0L933.9 266.0L936.1 264.0L938.3 262.1L940.6 260.1L942.8 258.2L945.1 256.3L947.4 254.4L949.7 252.6L952.1 250.7L954.4 248.9L956.8 247.1L959.2 245.3L961.6 243.6L964.0 241.9L966.4 240.2L968.9 238.5L971.3 236.9L973.8 235.2L976.3 233.7L978.9 232.1L981.4 230.6L984.0 229.1L986.6 227.6L989.2 226.2L991.8 224.8L994.5 223.4L997.2 222.0L999.9 220.7L1002.6 219.5L1005.3 218.2L1008.1 217.0L1010.9 215.8L1013.7 214.7L1016.6 213.6L1018.9 211.7L1021.3 209.8L1023.6 207.9L1026.0 206.1L1028.4 204.2L1030.6 202.2L1032.7 200.0L1034.7 197.8L1036.9 195.8L1039.4 194.1L1042.2 192.6L1044.9 191.1L1047.1 189.4L1048.8 187.1L1050.2 184.4L1051.6 181.6L1053.2 179.0L1054.8 176.5L1056.5 174.0L1058.2 171.5L1059.8 169.0L1061.5 166.5L1063.1 163.9L1064.7 161.3L1066.4 158.9L1068.3 156.6L1070.4 154.4L1072.6 152.3L1074.8 150.3L1076.9 148.2L1079.1 146.1L1081.4 144.1L1083.6 142.1L1085.8 144.1L1088.0 146.2L1090.1 148.3L1092.2 150.4L1094.3 152.6L1096.3 154.8L1098.2 157.0L1100.2 159.3L1102.0 161.6L1103.9 163.9L1105.7 166.2L1107.5 168.6L1109.2 171.0L1110.9 173.4L1112.6 175.9L1114.3 178.3L1115.9 180.8L1117.5 183.3L1119.0 185.9L1120.5 188.4L1122.0 191.0L1123.5 193.6L1125.0 196.2L1126.4 198.8L1127.8 201.4L1129.2 204.1L1130.5 206.8L1131.9 209.4L1133.2 212.1L1134.5 214.9L1135.8 217.6L1137.1 220.3L1138.3 223.1L1139.5 225.8L1140.8 228.6L1142.0 231.4L1143.2 234.1L1144.4 236.9L1145.5 239.7L1146.7 242.5L1147.9 245.3L1149.0 248.1L1150.2 250.9L1151.3 253.7L1152.5 256.6L1153.6 259.4L1154.7 262.2L1155.9 265.0L1157.0 267.8L1158.2 270.6L1159.3 273.4L1160.4 276.2L1161.6 279.0L1162.7 281.8L1163.9 284.6L1165.0 287.4L1166.1 290.2L1167.3 293.0L1168.4 295.8L1169.6 298.6L1170.7 301.3L1171.9 304.1L1173.1 306.9L1174.2 309.7L1175.4 312.4L1176.5 315.2L1177.7 318.0L1178.8 320.7L1180.0 323.5L1181.2 326.3L1182.3 329.0L1183.5 331.8L1184.6 334.6L1185.8 337.3L1187.0 340.1L1188.1 342.8L1189.3 345.6L1190.5 348.3L1191.6 351.1L1192.8 353.9L1194.0 356.6L1195.1 359.4L1196.3 362.1L1197.5 364.9L1198.6 367.6L1199.8 370.4L1201.0 373.1L1202.1 375.9L1203.3 378.6L1204.5 381.4L1205.6 384.1L1206.8 386.9L1208.0 389.6L1209.1 392.4L1210.3 395.1L1211.5 397.9L1212.6 400.6L1213.8 403.4L1215.0 406.1L1216.1 408.9L1217.3 411.7L1218.4 414.4L1219.6 417.2L1220.8 419.9L1221.9 422.7L1223.1 425.5L1224.2 428.2L1225.4 431.0L1226.6 433.7L1227.7 436.5L1228.9 439.3L1230.0 442.0L1231.2 444.8L1232.4 447.6L1233.5 450.3L1234.7 453.1L1235.9 455.9L1237.0 458.6L1238.2 461.4L1239.4 464.2L1240.5 466.9L1241.7 469.7L1242.9 472.5L1244.0 475.2L1245.2 478.0L1246.4 480.7L1247.6 483.5L1248.8 486.3L1249.9 489.0L1251.1 491.8L1252.3 494.6L1253.5 497.3L1254.7 500.1L1255.9 502.8L1257.1 505.6L1258.3 508.3L1259.5 511.1L1260.7 513.9L1261.9 516.6L1263.1 519.4L1264.4 522.1L1265.6 524.9L1266.8 527.6L1268.0 530.3L1269.3 533.1L1270.5 535.8L1271.7 538.6L1273.0 541.3L1274.2 544.1L1275.5 546.8L1276.8 549.5L1278.0 552.3L1279.3 555.0L1280.6 557.7L1281.8 560.4L1283.1 563.2L1284.4 565.9L1285.7 568.6L1287.0 571.3L1288.3 574.0L1289.6 576.7L1290.9 579.4L1292.3 582.1L1293.6 584.8L1294.9 587.5L1296.3 590.2L1297.7 592.9L1299.0 595.5L1300.4 598.2L1301.8 600.9L1303.2 603.5L1304.6 606.2L1306.0 608.8L1307.4 611.5L1308.8 614.1L1310.3 616.8L1311.7 619.4L1313.2 622.0L1314.7 624.6L1316.1 627.2L1317.6 629.8L1319.1 632.4L1320.7 635.0L1322.2 637.6L1323.7 640.1L1325.3 642.7L1326.9 645.3L1328.4 647.8L1330.0 650.3L1331.6 652.9L1333.2 655.4L1334.9 657.9L1336.5 660.4L1338.2 662.9L1339.8 665.4L1341.5 667.8L1343.2 670.3L1345.0 672.7L1346.7 675.2L1348.4 677.6L1350.2 680.0L1352.0 682.5L1353.8 684.9L1355.6 687.2L1357.4 689.6L1359.2 692.0L1361.1 694.4L1363.0 696.7L1364.8 699.0L1366.7 701.4L1368.6 703.7L1370.6 706.0L1372.5 708.3L1374.5 710.5L1376.4 712.8L1378.4 715.1L1380.4 717.3L1382.4 719.5L1384.4 721.8L1386.5 724.0L1388.5 726.2L1390.6 728.4L1392.6 730.5L1394.7 732.7L1396.8 734.9L1398.9 737.0L1401.1 739.1L1403.2 741.2L1405.3 743.3L1407.5 745.4L1409.7 747.5L1411.9 749.6L1414.1 751.6L1416.3 753.7L1418.5 755.7L1420.7 757.7L1423.0 759.7L1425.2 761.7L1427.5 763.7L1429.7 765.6L1432.0 767.6L1434.3 769.5L1436.6 771.4L1438.9 773.3L1441.3 775.2L1443.6 777.1L1446.0 779.0L1448.3 780.8L1450.7 782.7L1453.1 784.5L1455.4 786.3L1457.8 788.1L1460.2 789.9L1462.7 791.7L1465.1 793.4L1467.5 795.2L1470.0 796.9L1472.4 798.7L1474.9 800.4L1477.3 802.1L1479.8 803.8L1482.3 805.4L1484.8 807.1L1487.3 808.8L1489.8 810.4L1492.3 812.1L1494.8 813.7L1497.3 815.3L1499.8 817.0L1502.3 818.6L1504.9 820.2L1507.4 821.8L1510.0 823.3L1512.5 824.9L1515.1 826.5L1517.6 828.1L1520.2 829.6L1522.8 831.2L1525.3 832.7L1527.9 834.3L1530.5 835.8L1533.1 837.4L1535.6 838.9L1538.2 840.4L1540.8 842.0L1543.4 843.5L1546.0 845.0L1548.6 846.5L1551.2 848.0L1553.8 849.5L1556.4 851.1L1559.0 852.6L1561.6 854.1L1564.2 855.6L1566.8 857.1L1569.4 858.6L1572.0 860.1L1574.6 861.6L1577.2 863.1L1579.8 864.6L1582.4 866.2L1585.0 867.7L1587.6 869.2L1590.2 870.7L1592.8 872.2L1595.4 873.8L1598.0 875.3L1600.6 876.8L1603.2 878.3L1605.8 879.9L1608.4 881.4L1611.0 882.9L1613.6 884.5L1616.1 886.0L1618.7 887.6L1621.3 889.1L1623.9 890.7L1626.4 892.3L1629.0 893.8L1631.6 895.4L1634.1 897.0L1636.7 898.6L1639.2 900.2L1641.8 901.7L1644.3 903.3L1646.8 905.0L1649.4 906.6L1651.9 908.2L1654.4 909.8L1656.9 911.4L1659.5 913.1L1662.0 914.7L1664.5 916.4L1667.0 918.0L1669.5 919.7L1671.9 921.4L1674.4 923.1L1676.9 924.8L1679.4 926.5L1681.8 928.2L1684.3 929.9L1686.7 931.6L1689.2 933.3L1691.6 935.1L1694.0 936.8L1696.4 938.6L1698.9 940.4L1701.3 942.1L1703.7 943.9L1706.0 945.7L1708.4 947.6L1710.8 949.4L1713.2 951.2L1715.5 953.1L1717.9 954.9L1720.2 956.8L1722.5 958.6L1724.9 960.5L1727.2 962.4L1729.5 964.3L1731.8 966.2L1734.1 968.1L1736.4 970.1L1738.7 972.0L1740.9 974.0L1743.2 975.9L1745.5 977.9L1747.7 979.8L1750.0 981.8L1752.2 983.8L1754.5 985.8L1756.7 987.8L1758.9 989.8L1761.1 991.8L1763.3 993.9L1765.5 995.9L1767.7 997.9L1769.9 1000.0L1772.1 1002.1L1774.3 1004.1L1776.5 1006.2L1778.7 1008.3L1780.8 1010.4L1783.0 1012.4L1785.1 1014.5L1787.3 1016.6L1789.4 1018.8L1791.6 1020.9L1793.7 1023.0L1795.8 1025.1L1797.9 1027.3L1800.1 1029.4L1802.2 1031.6L1804.3 1033.7L1806.4 1035.9L1808.5 1038.0L1810.6 1040.2L1812.7 1042.4L1814.7 1044.6L1816.8 1046.7L1818.9 1048.9L1821.0 1051.1L1823.0 1053.3L1825.1 1055.5L1827.2 1057.7L1829.2 1059.9L1831.3 1062.1L1833.4 1064.3L1835.4 1066.5L1837.5 1068.8L1839.6 1071.0L1841.6 1073.2L1843.7 1075.4L1845.7 1077.6L1847.8 1079.7L1849.9 1081.9L1852.0 1084.1L1854.0 1086.3L1856.1 1088.5L1858.2 1090.6L1860.3 1092.8L1862.4 1095.0L1864.5 1097.1L1866.6 1099.2L1868.8 1101.4L1870.9 1103.5L1873.0 1105.6L1875.2 1107.7L1877.3 1109.7L1879.5 1111.8L1881.7 1113.9L1883.9 1115.9L1886.1 1117.9L1888.3 1120.0L1890.5 1122.0L1892.7 1123.9L1895.0 1125.9L1897.3 1127.9L1899.5 1129.8L1901.8 1131.7L1904.1 1133.6L1906.5 1135.5L1908.8 1137.3L1911.1 1139.2L1913.5 1141.0L1915.9 1142.8L1918.3 1144.5L1920.7 1146.3L1923.2 1148.0L1925.7 1149.7L1928.1 1151.4L1930.6 1153.0L1933.2 1154.6L1935.7 1156.2L1938.3 1157.8L1940.8 1159.3L1943.4 1160.9L1946.0 1162.4L1948.7 1163.8L1951.3 1165.3L1954.0 1166.7L1956.7 1168.1L1959.3 1169.4L1962.0 1170.8L1964.8 1172.1L1967.5 1173.3L1970.2 1174.6L1973.0 1175.8L1975.8 1177.0L1978.6 1178.2L1981.4 1179.3L1984.2 1180.4L1987.0 1181.5L1989.8 1182.5L1992.6 1183.6L1995.5 1184.5L1998.4 1185.5L2001.2 1186.4L2004.1 1187.3L2007.0 1188.2L2009.9 1189.0L2012.8 1189.8L2015.7 1190.6L2018.6 1191.3L2021.5 1192.0L2024.5 1192.7L2027.4 1193.4L2030.4 1194.0L2033.3 1194.6L2036.3 1195.1L2039.2 1195.6L2042.2 1196.1L2045.1 1196.5L2048.1 1196.9L2051.1 1197.3L2054.0 1197.7L2057.0 1198.0L2060.0 1198.2L2063.0 1198.5L2066.0 1198.7L2068.9 1198.9L2071.9 1199.0L2074.9 1199.1L2077.9 1199.2L2080.9 1199.2L2083.8 1199.2L2086.8 1199.2L2089.8 1199.1L2092.8 1199.0L2095.8 1198.9L2098.8 1198.8L2101.7 1198.6L2104.7 1198.4L2107.7 1198.2L2110.7 1198.0L2113.7 1197.7L2116.7 1197.4L2119.7 1197.1L2122.6 1196.8L2125.6 1196.4L2128.6 1196.1L2131.6 1195.7L2134.6 1195.3L2137.6 1194.8L2140.5 1194.4L2143.5 1193.9L2146.5 1193.5L2149.5 1193.0L2152.5 1192.5L2155.4 1191.9L2158.4 1191.4L2161.4 1190.9L2164.4 1190.3L2167.3 1189.8L2170.3 1189.2L2173.3 1188.6L2176.2 1188.0L2179.2 1187.4L2182.2 1186.8L2185.1 1186.2L2188.1 1185.6L2191.0 1185.0L2194.0 1184.4L2197.0 1183.8L2199.9 1183.1L2202.9 1182.5L2205.8 1181.9L2208.8 1181.3L2211.7 1180.7L2214.7 1180.0L2217.6 1179.4L2220.5 1178.8L2223.5 1178.2L2226.4 1177.6L2229.3 1177.0L2232.3 1176.4L2235.2 1175.8L2238.1 1175.2L2241.0 1174.7L2244.0 1174.1L2246.9 1173.6L2249.8 1173.0L2252.7 1172.5L2255.6 1172.0L2258.5 1171.5"/>
<text class="tk" x="339.2" y="1415.0" text-anchor="middle">0</text>
<text class="tk" x="818.4" y="1415.0" text-anchor="middle">450</text>
<text class="tk" x="1297.6" y="1415.0" text-anchor="middle">900</text>
<text class="tk" x="1776.8" y="1415.0" text-anchor="middle">1350</text>
<text class="tk" x="2256.0" y="1415.0" text-anchor="middle">1800</text>
<text class="tk" x="260.5" y="1340.7" text-anchor="end">4.0</text>
<text class="tk" x="260.5" y="1162.5" text-anchor="end">4.5</text>
<text class="tk" x="260.5" y="984.3" text-anchor="end">5.0</text>
<text class="tk" x="260.5" y="806.1" text-anchor="end">5.5</text>
<text class="tk" x="260.5" y="627.8" text-anchor="end">6.0</text>
<text class="tk" x="260.5" y="449.6" text-anchor="end">6.5</text>
<text class="tk" x="260.5" y="271.4" text-anchor="end">7.0</text>
<text class="tk" x="260.5" y="93.2" text-anchor="end">7.5</text>
<text class="lb" x="1268.0" y="1530.5" text-anchor="middle">Time [s]</text>
<text class="lb" transform="translate(100.0 690.0) rotate(-90)" text-anchor="middle">Temperature [K]</text>
<rect x="1371.4" y="132.5" width="819.2" height="98.4" fill="#fff" stroke="#262626" stroke-width="3.5"/>
<line x1="1378.3" y1="181.5" x2="1446.4" y2="181.5" stroke="#0072BD" stroke-width="9.6"/>
<text class="lg" x="1452.0" y="211.0">inlet</text>
<line x1="1610.3" y1="181.5" x2="1678.1" y2="181.5" stroke="#D95319" stroke-width="9.6"/>
<text class="lg" x="1684.0" y="211.0">middle</text>
<line x1="1923.1" y1="181.5" x2="1991.6" y2="181.5" stroke="#EDB120" stroke-width="9.6"/>
<text class="lg" x="1998.0" y="211.0">outlet</text>
</svg></body></html>
